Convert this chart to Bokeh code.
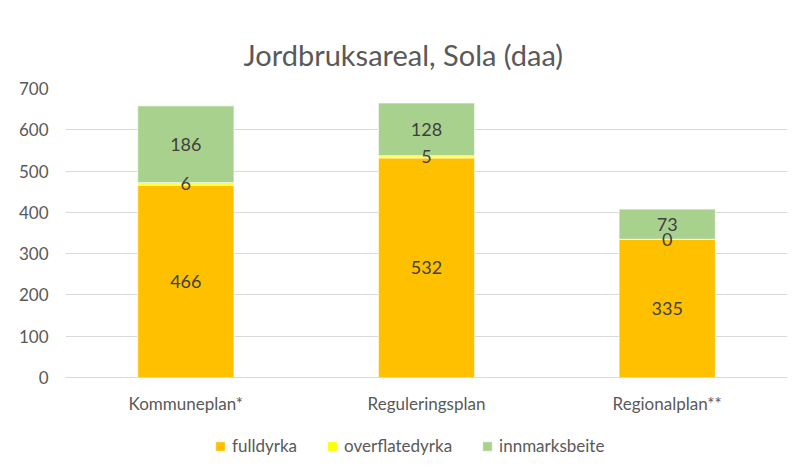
from bokeh.plotting import figure
from bokeh.models import ColumnDataSource, Legend, LegendItem, LabelSet, Range1d
from bokeh.embed import file_html
from bokeh.resources import INLINE
from bokeh.core.properties import value

categories = ["Kommuneplan*", "Reguleringsplan", "Regionalplan**"]
series = ["fulldyrka", "overflatedyrka", "innmarksbeite"]
fulldyrka = [466, 532, 335]
overflatedyrka = [6, 5, 0]
innmarksbeite = [186, 128, 73]
colors = ["#FFC000", "#FFFF00", "#A9D18E"]
y_ticks = [0, 100, 200, 300, 400, 500, 600, 700]

FONT = "Lato"
TXT = "#595959"

data = {"cat": categories, "fulldyrka": fulldyrka,
        "overflatedyrka": overflatedyrka, "innmarksbeite": innmarksbeite}
# label positions (segment centres)
data["y_full"] = [f / 2 for f in fulldyrka]
data["y_over"] = [f + o / 2 for f, o in zip(fulldyrka, overflatedyrka)]
data["y_inn"] = [f + o + i / 2 for f, o, i in zip(fulldyrka, overflatedyrka, innmarksbeite)]
data["t_full"] = [str(v) for v in fulldyrka]
data["t_over"] = [str(v) for v in overflatedyrka]
data["t_inn"] = [str(v) for v in innmarksbeite]
src = ColumnDataSource(data)

# frame extends below zero so the category labels and legend sit inside it
p = figure(x_range=categories, y_range=Range1d(-208, 700),
           frame_width=722, frame_height=375,
           output_backend="svg", toolbar_location=None,
           min_border_left=65, min_border_right=12, min_border_top=88, min_border_bottom=0)
p.x_range.range_padding = 0

p.title.text = "Jordbruksareal, Sola (daa)"
p.title.align = "left"
p.title.offset = 178
p.title.text_font = FONT
p.title.text_font_size = "29px"
p.title.text_font_style = "normal"
p.title.text_color = TXT
p.title.standoff = 34

renderers = p.vbar_stack(series, x="cat", width=0.4, source=src, color=colors,
                         line_color="white", line_width=0.7)

for ycol, tcol in [("y_full", "t_full"), ("y_over", "t_over"), ("y_inn", "t_inn")]:
    p.add_layout(LabelSet(x="cat", y=ycol, text=tcol, source=src,
                          text_align="center", text_baseline="middle",
                          text_font=value(FONT), text_font_size="18px",
                          text_color="#404040"))

legend = Legend(items=[LegendItem(label=s, renderers=[r]) for s, r in zip(series, renderers)],
                orientation="horizontal", location=(149, 7),
                label_text_font=FONT, label_text_font_size="17px", label_text_color=TXT,
                glyph_width=12, glyph_height=12, spacing=29, label_standoff=6,
                border_line_color=None, background_fill_alpha=0, padding=0, margin=0)
p.add_layout(legend)

p.yaxis.ticker = y_ticks
p.yaxis.axis_line_color = None
p.yaxis.major_tick_line_color = None
p.yaxis.minor_tick_line_color = None
p.yaxis.major_label_standoff = 11
p.yaxis.major_label_text_font = FONT
p.yaxis.major_label_text_font_size = "17px"
p.yaxis.major_label_text_color = TXT

p.xaxis.fixed_location = 0
p.xaxis.axis_line_color = "#D9D9D9"
p.xaxis.major_tick_line_color = None
p.xaxis.minor_tick_line_color = None
p.xaxis.major_label_standoff = 9
p.xaxis.major_label_text_font = FONT
p.xaxis.major_label_text_font_size = "17px"
p.xaxis.major_label_text_color = TXT

p.xgrid.grid_line_color = None
p.ygrid.grid_line_color = "#D9D9D9"
p.ygrid.grid_line_width = 1
p.outline_line_color = None

open("out.html", "w").write(file_html(p, INLINE))
